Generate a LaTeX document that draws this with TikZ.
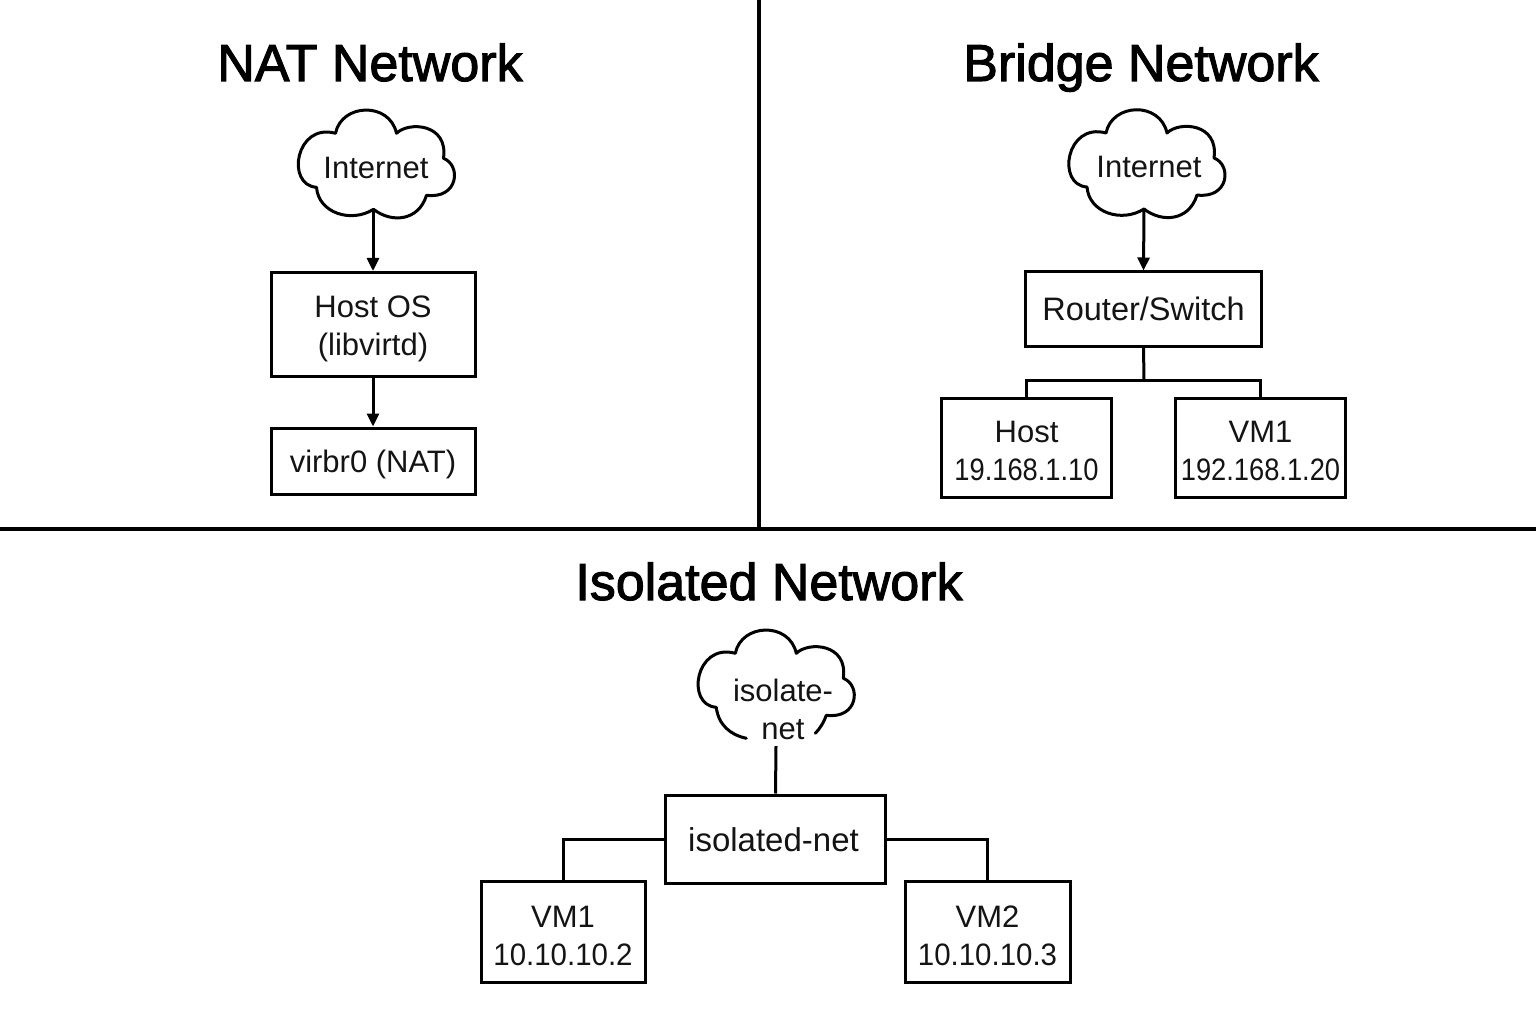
\documentclass[tikz,border=0pt]{standalone}
\usepackage{fontspec}
\setmainfont{Liberation Sans}
\newfontfamily\titlefont[FakeBold=2]{Liberation Sans}
\newfontfamily\numa[FakeStretch=0.88]{Liberation Sans}
\newfontfamily\numb[FakeStretch=0.95]{Liberation Sans}
\newcommand{\dn}[2][11.5pt]{\raisebox{-#1}[0pt][0pt]{#2}}
\usetikzlibrary{arrows.meta}
\tikzset{
 x=1pt,y=-1pt,
 box/.style={draw=black,line width=3pt,inner sep=0pt,align=center,font=\fontsize{31}{38}\selectfont,text=black!92},
 title/.style={font=\titlefont\fontsize{52}{56}\selectfont,text=black,inner sep=0pt,anchor=base},
 lbl/.style={font=\fontsize{31}{38}\selectfont,text=black!92,inner sep=0pt,align=center},
 wire/.style={line width=3pt,draw=black},
 arr/.style={wire,-{Stealth[length=13pt,width=12pt,inset=0pt]}},
 sep/.style={line width=3.5pt,draw=black},
 cloudline/.style={line width=3pt,draw=black,line join=round,line cap=round},
}
\newcommand{\cloudat}[2]{%
 \begin{scope}[shift={(#1,#2)}]
 \draw[cloudline] (0,46) .. controls (-22,60) and (-55,50) .. (-57,24)
  .. controls (-88,22) and (-78,-41) .. (-38,-30)
  .. controls (-32,-60) and (16,-62) .. (23,-30)
  .. controls (35,-42) and (75,-40) .. (70,-5)
  .. controls (88,2) and (85,36) .. (53,32)
  .. controls (45,58) and (18,60) .. (0,46) -- cycle;
 \end{scope}}
\begin{document}
\begin{tikzpicture}
\useasboundingbox (0,0) rectangle (1536,1024);
\fill[white] (0,0) rectangle (1536,1024);
\coordinate (vt) at (759,0); \coordinate (vb) at (759,529);
\coordinate (hl) at (0,529); \coordinate (hr) at (1536,529);
\draw[sep] (vt)--(vb); \draw[sep] (hl)--(hr);
\node[title] (t1) at (370,81) {NAT Network};
\node[title] (t2) at (1141,81) {Bridge Network};
\node[title] (t3) at (769,600) {Isolated Network};
% NAT
\cloudat{373.5}{163.3}
\node[lbl] (c1) at (376,168) {Internet};
\node[box,minimum width=204pt,minimum height=104pt] (h1) at (373,324.5) {\dn{Host OS}\\\dn{(libvirtd)}};
\node[box,minimum width=204pt,minimum height=66pt] (v1) at (373,461) {\dn[11pt]{virbr0 (NAT)}};
\coordinate (c1b) at (373,209);
\draw[arr] (c1b)--(h1.north);
\draw[arr] (h1.south)--(v1.north);
% Bridge
\cloudat{1144}{163}
\node[lbl] (c2) at (1149,167) {Internet};
\node[box,font=\fontsize{32.5}{38}\selectfont,minimum width=236pt,minimum height=74pt] (r) at (1143.5,309) {Router/Switch};
\node[box,minimum width=170pt,minimum height=99pt] (ho) at (1026.5,447.5) {\dn[14pt]{Host}\\\dn[14pt]{\numa 19.168.1.10}};
\node[box,minimum width=170pt,minimum height=99pt] (vm) at (1260.5,447.5) {\dn[14pt]{VM1}\\\dn[14pt]{\numa 192.168.1.20}};
\coordinate (c2b) at (1144,209);
\coordinate (j) at (1144,380);
\draw[arr] (c2b)--(r.north);
\draw[wire] (r.south)--(j);
\draw[wire] (ho.north)|-(j)-|(vm.north);
% Isolated
\begin{scope}[shift={(773.3,683.3)}]
 \draw[cloudline] (-27,55) .. controls (-42,52) and (-55,42) .. (-57,24)
  .. controls (-88,22) and (-78,-41) .. (-38,-30)
  .. controls (-32,-60) and (16,-62) .. (23,-30)
  .. controls (35,-42) and (75,-40) .. (70,-5)
  .. controls (88,2) and (85,36) .. (53,32)
  .. controls (51,38) and (47,45) .. (42,50);
\end{scope}
\node[lbl] (c3) at (783,709) {isolate-\\net};
\node[box,font=\fontsize{33}{38}\selectfont,minimum width=220pt,minimum height=88pt] (n) at (775.5,839) {\dn[12pt]{isolated-net}\hspace*{4pt}};
\node[box,minimum width=164pt,minimum height=101pt] (a) at (563,932) {\dn[14pt]{VM1}\\\dn[14pt]{\numb 10.10.10.2}};
\node[box,minimum width=165pt,minimum height=101pt] (b) at (987.5,932) {\dn[14pt]{VM2}\\\dn[14pt]{\numb 10.10.10.3}};
\coordinate (c3b) at (776,746);
\draw[wire] (c3b)--(n.north);
\draw[wire] (n.west)-|(a.north);
\draw[wire] (n.east)-|(b.north);
\end{tikzpicture}
\end{document}
